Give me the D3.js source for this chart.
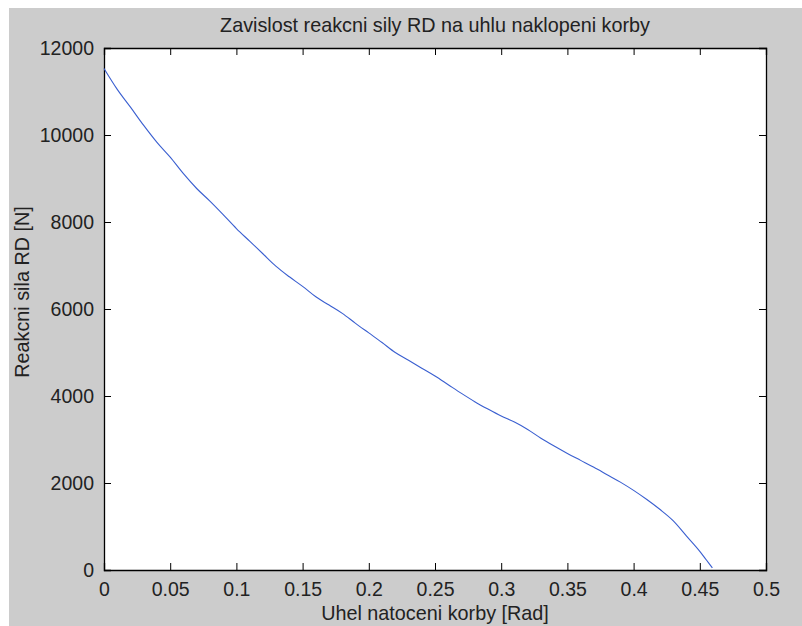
<!DOCTYPE html>
<head>
<meta charset="utf-8">
<title>Zavislost reakcni sily RD</title>
<script src="https://d3js.org/d3.v7.min.js"></script>
<style>
body { margin: 0; background: #fff; }
svg { font-family: "Liberation Sans", Arial, sans-serif; }
.axis path, .axis line { stroke: #000; }
.axis text { fill: #222; font-size: 19.5px; }
.line { fill: none; stroke: #3a5fd0; stroke-width: 1.1; }
.label { fill: #222; font-size: 19.8px; }
</style>
</head>
<body>
<div id="chart"></div>
<script>

/* data */
var angle = [0, 0.01, 0.02, 0.03, 0.04, 0.05, 0.06, 0.07, 0.08, 0.09,
  0.10, 0.11, 0.12, 0.13, 0.14, 0.15, 0.16, 0.17, 0.18, 0.19,
  0.20, 0.21, 0.22, 0.23, 0.24, 0.25, 0.26, 0.27, 0.28, 0.29,
  0.30, 0.31, 0.32, 0.33, 0.34, 0.35, 0.36, 0.37, 0.38, 0.39,
  0.40, 0.41, 0.42, 0.43, 0.44, 0.45, 0.455, 0.4595];
var force = [11530, 11050, 10640, 10220, 9830, 9490, 9110, 8770, 8480, 8170,
  7850, 7560, 7270, 6980, 6740, 6520, 6280, 6090, 5900, 5670,
  5450, 5230, 5000, 4820, 4640, 4460, 4260, 4060, 3870, 3700,
  3540, 3400, 3230, 3030, 2850, 2680, 2520, 2360, 2190, 2020,
  1830, 1620, 1390, 1130, 780, 430, 230, 50];
var xTicks = [0, 0.05, 0.1, 0.15, 0.2, 0.25, 0.3, 0.35, 0.4, 0.45, 0.5];
var yTicks = [0, 2000, 4000, 6000, 8000, 10000, 12000];

var title = "Zavislost reakcni sily RD na uhlu naklopeni korby";
var xLabel = "Uhel natoceni korby [Rad]";
var yLabel = "Reakcni sila RD [N]";

var width = 802, height = 626;
var mLeft = 104, mRight = 766, mTop = 48, mBottom = 570;

var points = angle.map((a, i) => ({x: a, y: force[i]}));

var svg = d3.select("#chart").append("svg")
  .attr("width", width)
  .attr("height", height);

// gray figure background
svg.append("rect")
  .attr("x", 9).attr("y", 8)
  .attr("width", width - 9).attr("height", height - 8)
  .attr("fill", "#cccccc");

svg.append("rect")
  .attr("x", mLeft).attr("y", mTop)
  .attr("width", mRight - mLeft).attr("height", mBottom - mTop)
  .attr("fill", "#fff");

var xScale = d3.scaleLinear().domain([0, 0.5]).range([mLeft, mRight]);
var yScale = d3.scaleLinear().domain([0, 12000]).range([mBottom, mTop]);

var fmt = d => String(+d.toFixed(2));

svg.append("g")
  .attr("class", "axis")
  .attr("transform", `translate(0, ${mBottom})`)
  .call(d3.axisBottom(xScale).tickValues(xTicks).tickSize(-7).tickPadding(12).tickFormat(fmt));

svg.append("g")
  .attr("class", "axis")
  .attr("transform", `translate(0, ${mTop})`)
  .call(d3.axisTop(xScale).tickValues(xTicks).tickSize(-7).tickFormat(""));

svg.append("g")
  .attr("class", "axis")
  .attr("transform", `translate(${mLeft}, 0)`)
  .call(d3.axisLeft(yScale).tickValues(yTicks).tickSize(-7).tickPadding(10).tickFormat(d3.format("d")));

svg.append("g")
  .attr("class", "axis")
  .attr("transform", `translate(${mRight}, 0)`)
  .call(d3.axisRight(yScale).tickValues(yTicks).tickSize(-7).tickFormat(""));

svg.selectAll(".axis .domain").attr("stroke-width", 1.3);

var line = d3.line()
  .curve(d3.curveMonotoneX)
  .x(d => xScale(d.x))
  .y(d => yScale(d.y));

svg.append("path")
  .datum(points)
  .attr("class", "line")
  .attr("d", line);

svg.append("text")
  .attr("class", "label")
  .attr("x", (mLeft + mRight) / 2)
  .attr("y", 32)
  .attr("text-anchor", "middle")
  .text(title);

svg.append("text")
  .attr("class", "label")
  .attr("x", (mLeft + mRight) / 2)
  .attr("y", 620)
  .attr("text-anchor", "middle")
  .text(xLabel);

svg.append("text")
  .attr("class", "label")
  .attr("transform", "translate(29, 292) rotate(-90)")
  .attr("text-anchor", "middle")
  .text(yLabel);

</script>
</body>
</html>
